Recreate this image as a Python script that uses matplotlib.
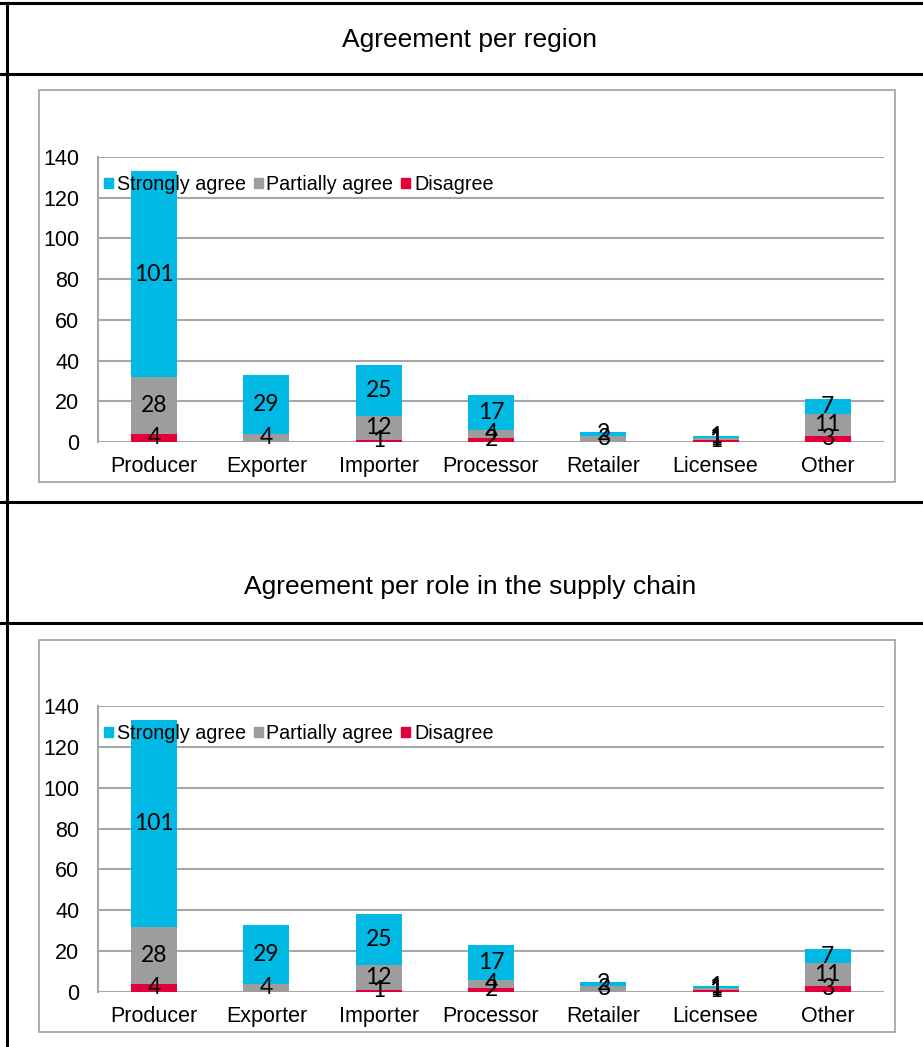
import numpy as np
import matplotlib.pyplot as plt
from matplotlib.patches import Patch, Rectangle
from matplotlib.lines import Line2D

# Dados
roles = ['Producer', 'Exporter', 'Importer', 'Processor', 'Retailer', 'Licensee', 'Other']
disagree = [4, 0, 1, 2, 0, 1, 3]
partially = [28, 4, 12, 4, 3, 1, 11]
strongly = [101, 29, 25, 17, 2, 1, 7]
titles = ['Agreement per region', 'Agreement per role in the supply chain']

c_strong = '#00B9E4'
c_part = '#9D9D9D'
c_dis = '#E2003B'
c_grid = '#A6A6A6'

W, H = 923, 1047
fig = plt.figure(figsize=(W / 100, H / 100), dpi=100)
plt.rcParams['font.family'] = ['Liberation Sans', 'DejaVu Sans']


def px_rect(x0, y0, x1, y1):
    # converte caixa em pixels (origem no topo) para coordenadas da figura
    return [x0 / W, 1 - y1 / H, (x1 - x0) / W, (y1 - y0) / H]


def fig_line(x0, y0, x1, y1, **kw):
    fig.add_artist(Line2D([x0 / W, x1 / W], [1 - y0 / H, 1 - y1 / H],
                          transform=fig.transFigure, **kw))


def draw_chart(ax):
    x = np.arange(len(roles))
    d = np.array(disagree)
    p = np.array(partially)
    s = np.array(strongly)
    w = 0.41
    b1 = ax.bar(x, d, w, color=c_dis, zorder=3)
    b2 = ax.bar(x, p, w, bottom=d, color=c_part, zorder=3)
    b3 = ax.bar(x, s, w, bottom=d + p, color=c_strong, zorder=3)
    for bars, vals, base in [(b1, d, 0 * d), (b2, p, d), (b3, s, d + p)]:
        for xi, v, b0 in zip(x, vals, base):
            if v > 0:
                ax.text(xi, b0 + v / 2, str(v), ha='center', va='center',
                        fontsize=16.5, family='Lato', color='black', zorder=5)
    ax.set_xlim(-0.5, len(roles) - 0.5)
    ax.set_ylim(0, 140)
    ax.set_yticks(range(0, 141, 20))
    ax.set_xticks(x)
    ax.set_xticklabels(roles, va='baseline')
    ax.yaxis.grid(True, color=c_grid, linewidth=1.5, zorder=0)
    ax.set_axisbelow(True)
    for side in ['top', 'right', 'bottom']:
        ax.spines[side].set_visible(False)
    ax.spines['left'].set_color(c_grid)
    ax.spines['left'].set_linewidth(1.5)
    ax.tick_params(length=0, labelsize=15.5)
    ax.tick_params(axis='y', pad=13.5)
    ax.tick_params(axis='x', pad=21.5)
    handles = [Patch(color=c_strong), Patch(color=c_part), Patch(color=c_dis)]
    leg = ax.legend(handles, ['Strongly agree', 'Partially agree', 'Disagree'],
                    ncol=3, frameon=False, fontsize=14.2, loc='upper left',
                    bbox_to_anchor=(-0.01, 0.985), handlelength=0.45, handleheight=0.45,
                    handletextpad=0.2, columnspacing=0.4, borderaxespad=0.3)
    leg.set_zorder(6)


# Dois gráficos com as mesmas caixas
for top, bottom, frame in [(157, 442, (39, 90, 895, 482)), (706, 992, (39, 640, 895, 1032))]:
    fx0, fy0, fx1, fy1 = frame
    fig.add_artist(Rectangle((fx0 / W, 1 - fy1 / H), (fx1 - fx0) / W, (fy1 - fy0) / H,
                             transform=fig.transFigure, fill=False,
                             edgecolor=c_grid, linewidth=1.3))
    ax = fig.add_axes(px_rect(98, top, 884, bottom))
    draw_chart(ax)

# Linhas da tabela
lk = dict(color='black', linewidth=2.2)
fig_line(0, 3, W, 3, **lk)
fig_line(0, 74, W, 74, **lk)
fig_line(0, 502, W, 502, **lk)
fig_line(0, 623, W, 623, **lk)
fig_line(7, 3, 7, H, **lk)

fig.text(470 / W, 1 - 40 / H, titles[0], ha='center', va='center', fontsize=19)
fig.text(470 / W, 1 - 587 / H, titles[1], ha='center', va='center', fontsize=19)

fig.savefig('out.png', dpi=100)
